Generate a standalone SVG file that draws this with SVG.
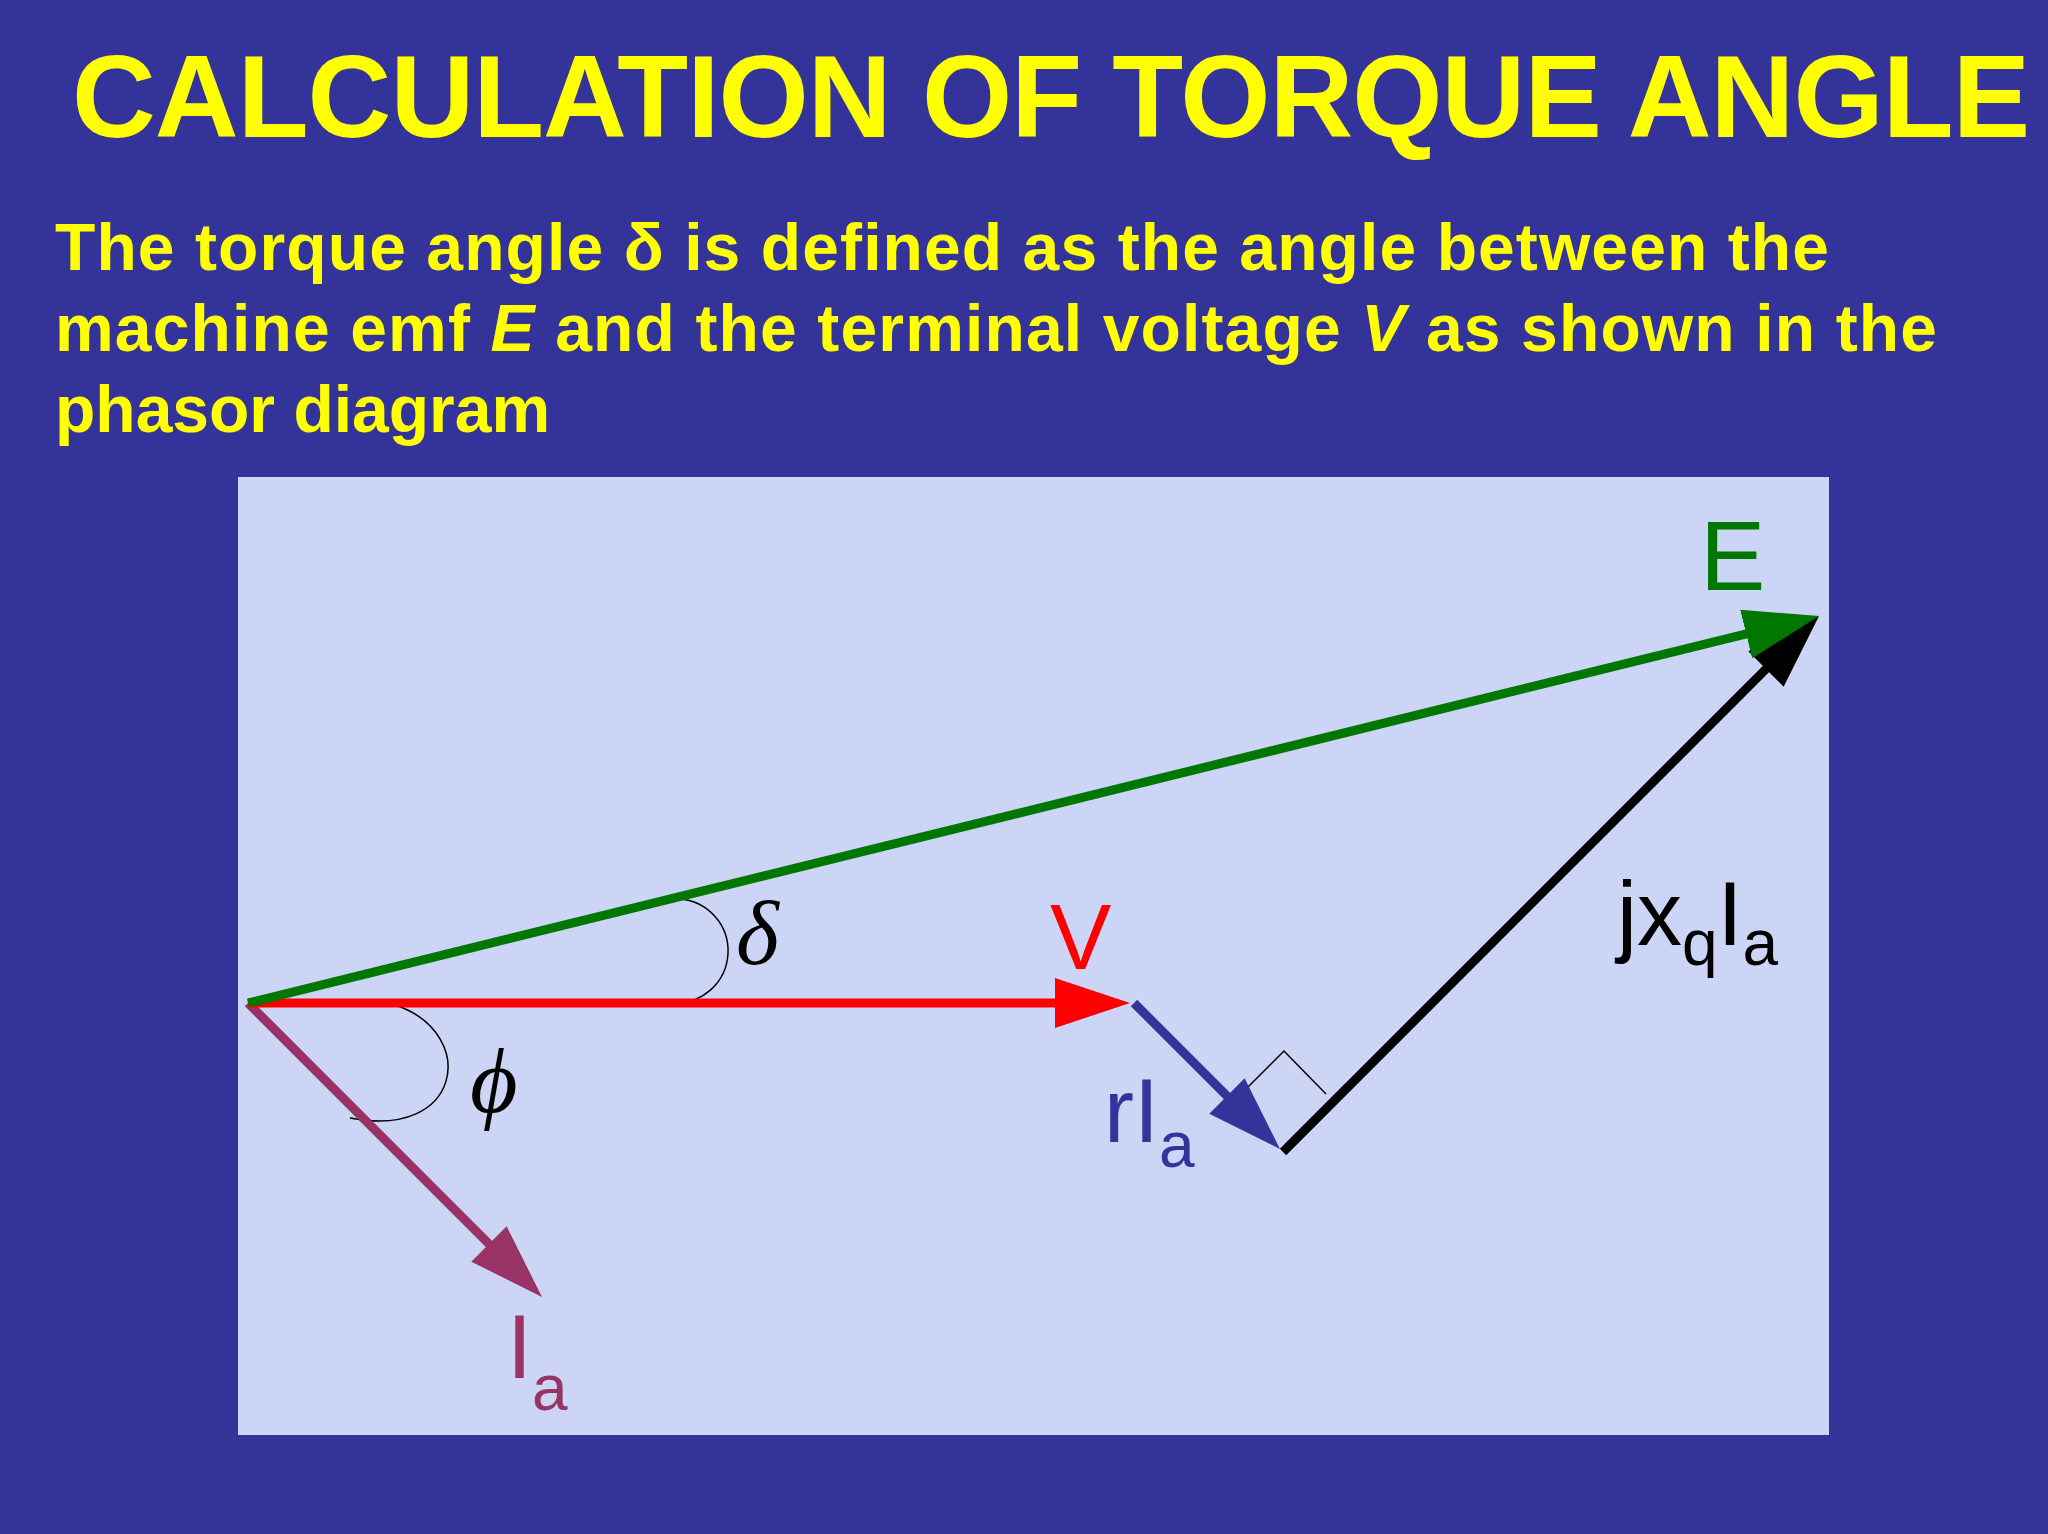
<svg xmlns="http://www.w3.org/2000/svg" width="2048" height="1534" viewBox="0 0 2048 1534">
<style>
.t{font-family:"Liberation Sans",Arial,sans-serif;font-weight:bold;fill:#FFFF00}
.l{font-family:"Liberation Sans",Arial,sans-serif}
.g{font-family:"Liberation Serif","Times New Roman",serif;font-style:italic;fill:#000}
</style>
<defs>
<marker id="mr" markerUnits="userSpaceOnUse" markerWidth="80" markerHeight="60" refX="60" refY="25" orient="auto"><path d="M0,0 L75,25 L0,50 Z" fill="#FF0000"/></marker>
<marker id="mg" markerUnits="userSpaceOnUse" markerWidth="80" markerHeight="60" refX="60" refY="25" orient="auto"><path d="M0,0 L75,25 L0,50 Z" fill="#007700"/></marker>
<marker id="mp" markerUnits="userSpaceOnUse" markerWidth="80" markerHeight="60" refX="60" refY="25" orient="auto"><path d="M0,0 L75,25 L0,50 Z" fill="#993366"/></marker>
<marker id="mb" markerUnits="userSpaceOnUse" markerWidth="80" markerHeight="60" refX="60" refY="25" orient="auto"><path d="M0,0 L75,25 L0,50 Z" fill="#333399"/></marker>
<marker id="mk" markerUnits="userSpaceOnUse" markerWidth="80" markerHeight="60" refX="60" refY="25" orient="auto"><path d="M0,0 L75,25 L0,50 Z" fill="#000"/></marker>
</defs>
<rect width="2048" height="1534" fill="#333399"/>
<text class="t" x="72" y="137" font-size="116" textLength="1958">CALCULATION OF TORQUE ANGLE</text>
<g class="t" font-size="66">
<text x="55" y="270" textLength="1774">The torque angle δ is defined as the angle between the</text>
<text x="55" y="351" textLength="1882">machine emf <tspan font-style="italic">E</tspan> and the terminal voltage <tspan font-style="italic">V</tspan> as shown in the</text>
<text x="55" y="432">phasor diagram</text>
</g>
<rect id="panel" x="238" y="477" width="1591" height="958" fill="#CCD5F5"/>
<g id="connectors" fill="none">
<path d="M673,1003 A52,52 0 0 0 679,899" stroke="#000" stroke-width="1.5"/>
<path d="M398,1006 C478,1035 462,1140 350,1118" stroke="#000" stroke-width="1.5"/>
<path d="M1234,1101 L1284,1051 L1326,1094" stroke="#000" stroke-width="1.5"/>
<g stroke-width="9" stroke-linecap="butt">
<line x1="248" y1="1003" x2="531.4" y2="1286.4" stroke="#993366" marker-end="url(#mp)"/>
<line x1="248" y1="1003" x2="1115" y2="1003" stroke="#FF0000" marker-end="url(#mr)"/>
<line x1="1134" y1="1003" x2="1269.4" y2="1138.4" stroke="#333399" marker-end="url(#mb)"/>
<line x1="1283" y1="1152" x2="1808.4" y2="626.6" stroke="#000" marker-end="url(#mk)"/>
<line x1="248" y1="1003" x2="1804.4" y2="619.6" stroke="#007700" marker-end="url(#mg)"/>
</g>
</g>
<g id="E"><text class="l" x="1700" y="590" font-size="98" fill="#007700">E</text></g>
<g id="V"><text class="l" x="1050" y="969" font-size="92" fill="#FF0000">V</text></g>
<g id="delta"><text class="g" x="736" y="964" font-size="92">δ</text></g>
<g id="phi"><text class="g" x="470" y="1112" font-size="92">ϕ</text></g>
<g id="jxqIa"><text class="l" x="1617" y="945" font-size="90" fill="#000">jx<tspan font-size="64" dy="20">q</tspan><tspan dy="-20">I</tspan><tspan font-size="64" dy="20">a</tspan></text></g>
<g id="rIa"><text class="l" x="1104" y="1142" font-size="90" fill="#333399">rI<tspan font-size="64" dy="25">a</tspan></text></g>
<g id="Ia"><text class="l" x="507" y="1378" font-size="90" fill="#993366">I<tspan font-size="64" dy="32">a</tspan></text></g>
</svg>
